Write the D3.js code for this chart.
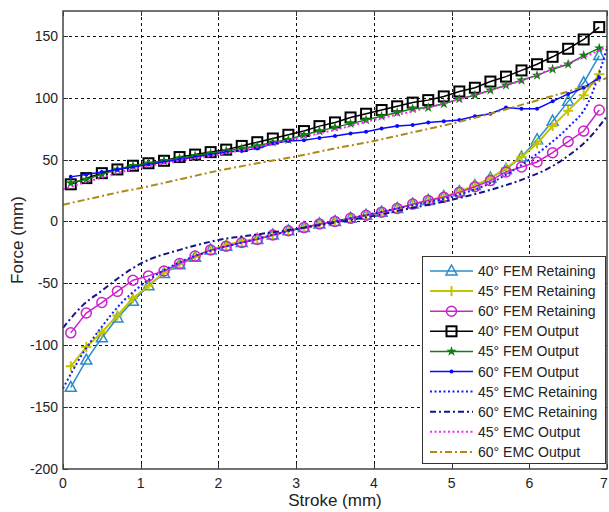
<!DOCTYPE html>
<html>
<head>
<meta charset="utf-8">
<script src="https://cdn.jsdelivr.net/npm/d3@7"></script>
<style>
  body { margin: 0; background: #fff; }
  svg { display: block; font-family: "Liberation Sans", Arial, sans-serif; }
</style>
</head>
<body>
<svg id="chart" width="609" height="512"></svg>
<script>
const strokeFem = [0.1, 0.3, 0.5, 0.7, 0.9, 1.1, 1.3, 1.5, 1.7, 1.9, 2.1, 2.3, 2.5, 2.7, 2.9, 3.1, 3.3, 3.5,
  3.7, 3.9, 4.1, 4.3, 4.5, 4.7, 4.9, 5.1, 5.3, 5.5, 5.7, 5.9, 6.1, 6.3, 6.5, 6.7, 6.9];
const strokeEmc = [0, 0.25, 0.5, 0.75, 1, 1.5, 2, 2.5, 3, 3.5, 4, 4.5, 5, 5.5, 6, 6.25, 6.5, 6.75, 7];

const fem40Ret = [-134, -112, -94, -78, -64.5, -52, -42, -35, -29, -23, -20, -17, -14.5, -11, -7.5, -5, -2, 0,
  2.5, 5, 7.5, 10.5, 14, 17, 20, 24, 29, 35, 42, 52, 66, 81, 97, 112, 134];
const fem45Ret = [-117, -101.5, -89.5, -76, -62, -52, -41, -34, -28, -23, -19, -16, -14, -11, -7.5, -5, -2, 0,
  2.5, 5, 7.5, 10.5, 14, 17, 20, 24, 29, 35, 43, 52, 63, 77, 89.5, 102, 119];
const fem60Ret = [-90, -74, -65.5, -56.5, -47.5, -44, -40, -34, -28, -23, -20, -17, -14.5, -11, -7.5, -5, -2, 0,
  2.5, 5, 7.5, 10.5, 14, 17, 19.5, 23.5, 28, 33, 40, 44, 48, 55.5, 64.5, 73, 90];
const fem40Out = [30, 35, 39, 42, 45, 47, 49, 52, 54, 56, 58, 61, 64, 67, 70, 73, 77, 80, 84, 87, 90, 93, 96,
  98, 101, 105, 108, 113, 117, 122, 127, 133, 139.5, 147, 157];
const fem45Out = [31, 34, 38, 42, 45, 47, 49, 51, 53, 55, 57, 59, 61, 64, 66, 70, 73, 76, 79, 82, 85, 88, 91,
  92, 95, 99, 102, 106, 110, 114, 118, 123, 127, 134, 140];
const fem60Out = [36, 38, 40, 42, 44, 46, 48, 50, 52, 54, 56, 57, 59, 63, 65, 65.5, 67.5, 69, 71, 72.5, 75, 77,
  78, 80, 81, 82, 85, 87, 92, 91, 91, 97, 103, 108, 116];

const emc45Ret = [-135, -107, -85, -66, -52, -33, -22, -14, -6.5, 0, 6.5, 13, 20, 31, 50, 62, 76, 95, 140];
const emc60Ret = [-86, -68, -56, -44, -34, -23, -15, -10.5, -6, -1, 4.5, 11, 17.5, 25.5, 36, 43, 53, 66, 85];
const emc45Out = [26, 31, 35.5, 40, 43.5, 49, 54, 60, 67, 74, 82, 89, 97, 106, 116, 122, 128, 134, 141];
const emc60Out = [13.5, 17, 20.5, 24, 27, 34, 41, 47, 52.5, 59, 65, 72, 79, 87, 96, 100.5, 105, 110, 116];

const xTicks = [0, 1, 2, 3, 4, 5, 6, 7];
const yTicks = [-200, -150, -100, -50, 0, 50, 100, 150];

const series = [
  { name: "40° FEM Retaining", xs: strokeFem, ys: fem40Ret, color: "#2a8ccc", width: 1.5, marker: "triangle" },
  { name: "45° FEM Retaining", xs: strokeFem, ys: fem45Ret, color: "#c4c400", width: 2, marker: "plus" },
  { name: "60° FEM Retaining", xs: strokeFem, ys: fem60Ret, color: "#cc22cc", width: 1.5, marker: "circle" },
  { name: "40° FEM Output", xs: strokeFem, ys: fem40Out, color: "#000000", width: 1.5, marker: "square" },
  { name: "45° FEM Output", xs: strokeFem, ys: fem45Out, color: "#108010", width: 1.5, marker: "star" },
  { name: "60° FEM Output", xs: strokeFem, ys: fem60Out, color: "#0a0aff", width: 1.5, marker: "dot" },
  { name: "45° EMC Retaining", xs: strokeEmc, ys: emc45Ret, color: "#1a1aff", width: 2, dash: "2,2.5", smooth: true },
  { name: "60° EMC Retaining", xs: strokeEmc, ys: emc60Ret, color: "#14148a", width: 2, dash: "6,3,2,3", smooth: true },
  { name: "45° EMC Output", xs: strokeEmc, ys: emc45Out, color: "#ff22ff", width: 2, dash: "2,2.5", smooth: true },
  { name: "60° EMC Output", xs: strokeEmc, ys: emc60Out, color: "#b08a18", width: 2, dash: "7,3,2,3", smooth: true },
];

const margin = { top: 11, right: 2, bottom: 43, left: 63 };
const width = 609;
const height = 512;

const x = d3.scaleLinear().domain([0, 7]).range([margin.left, width - margin.right]);
const y = d3.scaleLinear().domain([-200, 170]).range([height - margin.bottom, margin.top]);

const svg = d3.select("#chart");
svg.append("rect").attr("width", width).attr("height", height).attr("fill", "#fff");

const x0 = x.range()[0], x1 = x.range()[1];
const y0 = y.range()[0], y1 = y.range()[1];

// grid
const grid = svg.append("g").attr("stroke", "#111").attr("stroke-width", 1).attr("stroke-dasharray", "3,3");
grid.selectAll(".gx").data(xTicks.slice(1, -1)).join("line")
  .attr("x1", (d) => Math.round(x(d)) + 0.5).attr("x2", (d) => Math.round(x(d)) + 0.5)
  .attr("y1", y1).attr("y2", y0);
grid.selectAll(".gy").data(yTicks.slice(1)).join("line")
  .attr("y1", (d) => Math.round(y(d)) + 0.5).attr("y2", (d) => Math.round(y(d)) + 0.5)
  .attr("x1", x0).attr("x2", x1);

// ticks inside on all four sides
const ticks = svg.append("g").attr("stroke", "#333").attr("stroke-width", 1);
xTicks.forEach((t) => {
  const px = Math.round(x(t)) + 0.5;
  ticks.append("line").attr("x1", px).attr("x2", px).attr("y1", y0).attr("y2", y0 - 5);
  ticks.append("line").attr("x1", px).attr("x2", px).attr("y1", y1).attr("y2", y1 + 5);
});
yTicks.forEach((t) => {
  const py = Math.round(y(t)) + 0.5;
  ticks.append("line").attr("x1", x0).attr("x2", x0 + 5).attr("y1", py).attr("y2", py);
  ticks.append("line").attr("x1", x1).attr("x2", x1 - 5).attr("y1", py).attr("y2", py);
});

// tick labels
svg.append("g").selectAll("text").data(xTicks).join("text")
  .attr("x", (d) => Math.min(x(d), width - 5)).attr("y", y0 + 19)
  .attr("text-anchor", "middle").attr("font-size", 14).attr("fill", "#222")
  .text((d) => d);
svg.append("g").selectAll("text").data(yTicks).join("text")
  .attr("x", x0 - 5).attr("y", (d) => y(d) + 5)
  .attr("text-anchor", "end").attr("font-size", 14).attr("fill", "#222")
  .text((d) => d);

// axis titles
svg.append("text")
  .attr("x", (x0 + x1) / 2).attr("y", height - 6)
  .attr("text-anchor", "middle").attr("font-size", 17).attr("fill", "#222")
  .text("Stroke (mm)");
svg.append("text")
  .attr("transform", `translate(23,${(y0 + y1) / 2}) rotate(-90)`)
  .attr("text-anchor", "middle").attr("font-size", 17).attr("fill", "#222")
  .text("Force (mm)");

function drawMarker(g, type, cx, cy, color) {
  if (type === "triangle") {
    g.append("path").attr("d", `M${cx},${cy - 6}L${cx + 5.5},${cy + 4}L${cx - 5.5},${cy + 4}Z`)
      .attr("fill", "none").attr("stroke", color).attr("stroke-width", 1.5);
  } else if (type === "square") {
    g.append("rect").attr("x", cx - 5).attr("y", cy - 5).attr("width", 10).attr("height", 10)
      .attr("fill", "none").attr("stroke", color).attr("stroke-width", 2);
  } else if (type === "circle") {
    g.append("circle").attr("cx", cx).attr("cy", cy).attr("r", 5)
      .attr("fill", "none").attr("stroke", color).attr("stroke-width", 1.5);
  } else if (type === "plus") {
    g.append("path").attr("d", `M${cx - 5},${cy}H${cx + 5}M${cx},${cy - 5}V${cy + 5}`)
      .attr("stroke", color).attr("stroke-width", 2);
  } else if (type === "star") {
    g.append("path").attr("d", d3.symbol(d3.symbolStar, 34)()).attr("transform", `translate(${cx},${cy})`)
      .attr("fill", color);
  } else if (type === "dot") {
    g.append("circle").attr("cx", cx).attr("cy", cy).attr("r", 2).attr("fill", color);
  }
}

const plot = svg.append("g");
series.forEach((s) => {
  const pts = s.xs.map((v, i) => [v, s.ys[i]]);
  const line = d3.line().x((p) => x(p[0])).y((p) => y(p[1]))
    .curve(s.smooth ? d3.curveMonotoneX : d3.curveLinear);
  plot.append("path").datum(pts)
    .attr("fill", "none").attr("stroke", s.color).attr("stroke-width", s.width)
    .attr("stroke-dasharray", s.dash || null).attr("d", line);
  if (s.marker) {
    const mg = plot.append("g");
    pts.forEach((p) => drawMarker(mg, s.marker, x(p[0]), y(p[1]), s.color));
  }
});

// frame
svg.append("rect")
  .attr("x", x0).attr("y", y1).attr("width", x1 - x0).attr("height", y0 - y1)
  .attr("fill", "none").attr("stroke", "#444").attr("stroke-width", 1.5);

// legend
const legend = svg.append("g");
legend.append("rect").attr("x", 422.5).attr("y", 256.5).attr("width", 183).attr("height", 207)
  .attr("fill", "#fff").attr("stroke", "#333").attr("stroke-width", 1);
series.forEach((s, i) => {
  const ly = 271 + i * 20.1;
  legend.append("line").attr("x1", 430).attr("x2", 473).attr("y1", ly).attr("y2", ly)
    .attr("stroke", s.color).attr("stroke-width", s.width).attr("stroke-dasharray", s.dash || null);
  if (s.marker) drawMarker(legend, s.marker, 451.5, ly, s.color);
  legend.append("text").attr("x", 478).attr("y", ly + 5)
    .attr("font-size", 14).attr("fill", "#222").text(s.name);
});
</script>
</body>
</html>
